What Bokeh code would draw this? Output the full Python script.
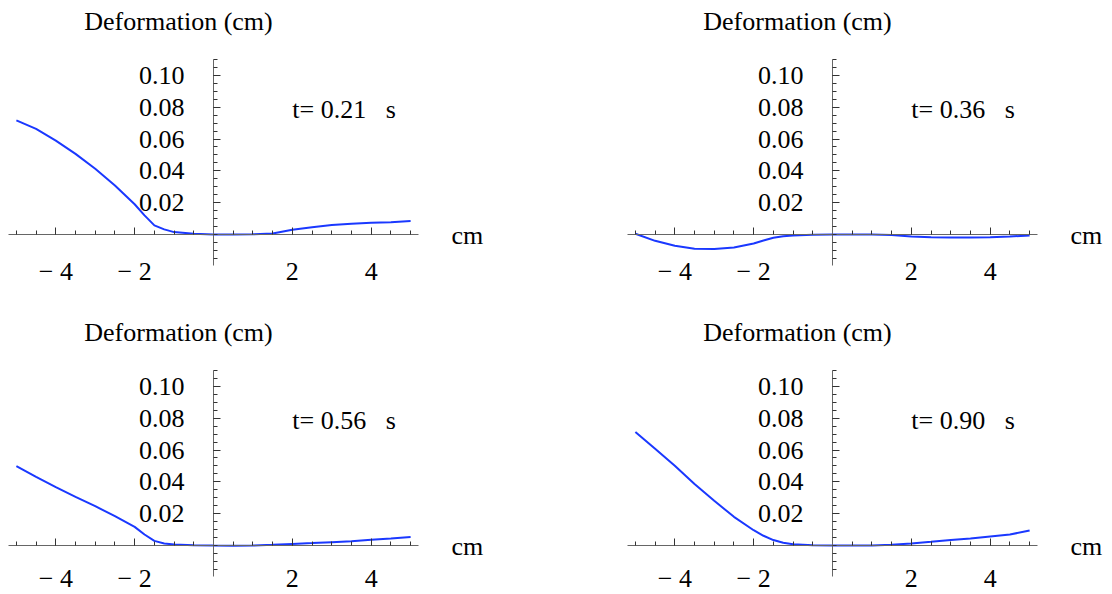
from bokeh.plotting import figure
from bokeh.layouts import gridplot
from bokeh.models import FixedTicker, Range1d, Label, NumeralTickFormatter
from bokeh.embed import file_html
from bokeh.resources import INLINE

# Position along the sample (cm)
x_cm = [-5, -4.5, -4, -3.5, -3, -2.5, -2, -1.75, -1.5, -1.25, -1, -0.5,
        0, 0.5, 1, 1.5, 2, 2.5, 3, 3.5, 4, 4.5, 5]

# Deformation (cm) at each time step
defo_t021 = [0.0717, 0.0664, 0.0590, 0.0507, 0.0413, 0.0308, 0.0190, 0.0120,
             0.0057, 0.0032, 0.0015, 0.0004, 0.0, 0.0, 0.0001, 0.0006,
             0.0030, 0.0046, 0.0059, 0.0067, 0.0073, 0.0077, 0.0084]
defo_t036 = [0.0005, -0.0040, -0.0071, -0.0090, -0.0092, -0.0082, -0.0057,
             -0.0038, -0.0021, -0.0011, -0.0006, -0.0002, 0.0, 0.0, 0.0,
             -0.0004, -0.0013, -0.0017, -0.0019, -0.0019, -0.0017, -0.0013,
             -0.0006]
defo_t056 = [0.0499, 0.0432, 0.0367, 0.0306, 0.0247, 0.0184, 0.0117, 0.0069,
             0.0029, 0.0013, 0.0006, 0.0002, 0.0, -0.0001, 0.0, 0.0004,
             0.0010, 0.0015, 0.0021, 0.0027, 0.0036, 0.0044, 0.0054]
defo_t090 = [0.0714, 0.0608, 0.0501, 0.0386, 0.0281, 0.0180, 0.0096, 0.0061,
             0.0034, 0.0017, 0.0008, 0.0002, 0.0, 0.0, 0.0, 0.0004,
             0.0013, 0.0023, 0.0034, 0.0044, 0.0057, 0.0069, 0.0094]

time_labels = ["0.21", "0.36", "0.56", "0.90"]
y_major = [0.02, 0.04, 0.06, 0.08, 0.10]
x_major = [-4, -2, 2, 4]
x_labels = {-4: "\u2212 4", -2: "\u2212 2", 2: "2", 4: "4"}

# extent of the drawn axes (data units)
X_LIM = (-5.2, 5.2)
Y_LIM = (-0.0195, 0.11)

FONT = "Liberation Serif"
FSIZE = "26px"
W, H = 556, 297


def padded(lim, size, before, after):
    """Range that puts lim inside size px, leaving before/after px around it."""
    scale = (size - before - after) / (lim[1] - lim[0])
    return Range1d(lim[0] - before / scale, lim[1] + after / scale)


def panel(ys, tlabel, borders, x_standoff):
    left, right, top, bottom = borders
    p = figure(width=W, height=H, output_backend="svg", toolbar_location=None,
               title=None,
               x_range=padded(X_LIM, W, left, right),
               y_range=padded(Y_LIM, H, bottom, top),
               min_border=0)
    p.outline_line_color = None
    p.xgrid.visible = False
    p.ygrid.visible = False
    p.background_fill_color = "white"
    p.border_fill_color = "white"

    p.line(x_cm, ys, line_color="#1a38ff", line_width=2)

    xa = p.xaxis[0]
    xa.fixed_location = 0
    xa.bounds = X_LIM
    xa.ticker = FixedTicker(ticks=x_major,
                            minor_ticks=[i * 0.5 for i in range(-10, 11)])
    xa.major_label_overrides = x_labels
    ya = p.yaxis[0]
    ya.fixed_location = 0
    ya.bounds = Y_LIM
    ya.ticker = FixedTicker(ticks=y_major,
                            minor_ticks=[i * 0.005 for i in range(-3, 23)])
    ya.formatter = NumeralTickFormatter(format="0.00")
    for ax in (xa, ya):
        ax.axis_line_color = "#666666"
        ax.axis_line_width = 1
        ax.major_tick_line_color = "#333333"
        ax.minor_tick_line_color = "#333333"
        ax.major_tick_in = 7
        ax.major_tick_out = 0
        ax.minor_tick_in = 4
        ax.minor_tick_out = 0
        ax.major_label_text_font = FONT
        ax.major_label_text_font_size = FSIZE
        ax.major_label_text_color = "black"
    xa.major_label_standoff = x_standoff
    ya.major_label_standoff = 29

    p.add_layout(Label(x=0, y=Y_LIM[1], x_offset=-35, y_offset=38,
                       text="Deformation (cm)",
                       text_align="center", text_baseline="alphabetic",
                       text_font=FONT, text_font_size=FSIZE, text_color="black"))
    p.add_layout(Label(x=X_LIM[1], y=0, x_offset=33, y_offset=-1, text="cm",
                       text_align="left", text_baseline="alphabetic",
                       text_font=FONT, text_font_size=FSIZE, text_color="black"))
    p.add_layout(Label(x=2, y=0.08, y_offset=-2,
                       text="t=\u00a0" + tlabel + "\u00a0\u00a0\u00a0s",
                       text_align="left", text_baseline="alphabetic",
                       text_font=FONT, text_font_size=FSIZE, text_color="black"))
    return p


p1 = panel(defo_t021, time_labels[0], (8, 138, 59, 32), 23)
p2 = panel(defo_t036, time_labels[1], (71, 75, 59, 32), 23)
p3 = panel(defo_t056, time_labels[2], (8, 138, 73, 18), 19)
p4 = panel(defo_t090, time_labels[3], (71, 75, 73, 18), 19)

grid = gridplot([[p1, p2], [p3, p4]], toolbar_location=None)

open("out.html", "w").write(file_html(grid, INLINE))
